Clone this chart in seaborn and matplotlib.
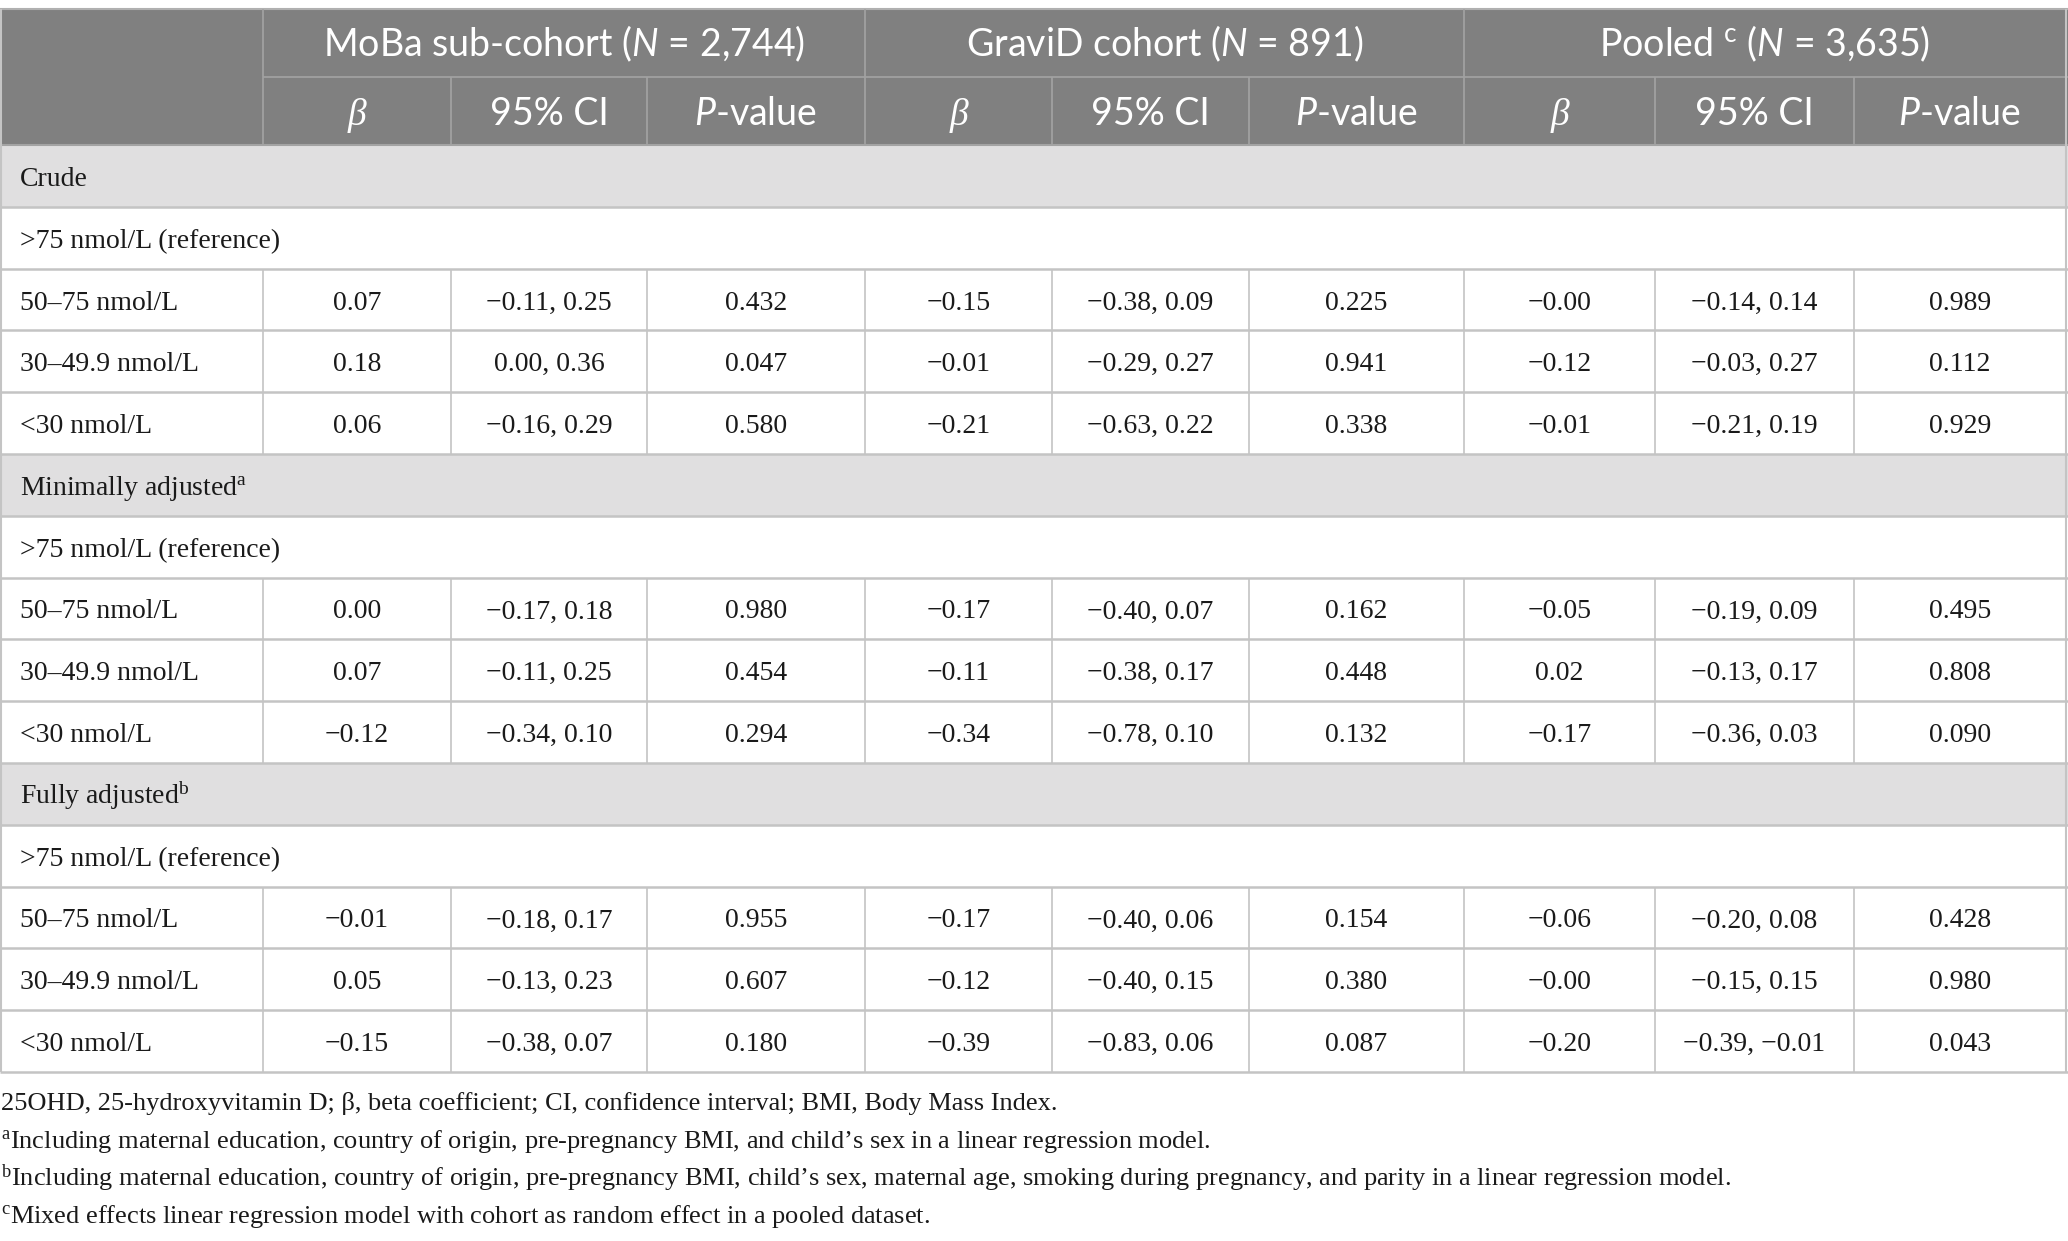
import matplotlib
matplotlib.use("Agg")
import matplotlib.pyplot as plt
import seaborn as sns

# ---- data ----
sections = ["Crude", "Minimally adjusted$\\mathregular{^a}$", "Fully adjusted$\\mathregular{^b}$"]
ref_label = ">75 nmol/L (reference)"
levels = ["50–75 nmol/L", "30–49.9 nmol/L", "<30 nmol/L"]

groups = ["MoBa sub-cohort ($N$ = 2,744)", "GraviD cohort ($N$ = 891)",
          "Pooled $\\mathregular{^c}$ ($N$ = 3,635)"]
subheads = ["β", "95% CI", "$P$-value"]

# one list per section, rows = levels
moba_beta = [["0.07", "0.18", "0.06"], ["0.00", "0.07", "−0.12"], ["−0.01", "0.05", "−0.15"]]
moba_ci = [["−0.11, 0.25", "0.00, 0.36", "−0.16, 0.29"],
           ["−0.17, 0.18", "−0.11, 0.25", "−0.34, 0.10"],
           ["−0.18, 0.17", "−0.13, 0.23", "−0.38, 0.07"]]
moba_p = [["0.432", "0.047", "0.580"], ["0.980", "0.454", "0.294"], ["0.955", "0.607", "0.180"]]

gravid_beta = [["−0.15", "−0.01", "−0.21"], ["−0.17", "−0.11", "−0.34"], ["−0.17", "−0.12", "−0.39"]]
gravid_ci = [["−0.38, 0.09", "−0.29, 0.27", "−0.63, 0.22"],
             ["−0.40, 0.07", "−0.38, 0.17", "−0.78, 0.10"],
             ["−0.40, 0.06", "−0.40, 0.15", "−0.83, 0.06"]]
gravid_p = [["0.225", "0.941", "0.338"], ["0.162", "0.448", "0.132"], ["0.154", "0.380", "0.087"]]

pooled_beta = [["−0.00", "−0.12", "−0.01"], ["−0.05", "0.02", "−0.17"], ["−0.06", "−0.00", "−0.20"]]
pooled_ci = [["−0.14, 0.14", "−0.03, 0.27", "−0.21, 0.19"],
             ["−0.19, 0.09", "−0.13, 0.17", "−0.36, 0.03"],
             ["−0.20, 0.08", "−0.15, 0.15", "−0.39, −0.01"]]
pooled_p = [["0.989", "0.112", "0.929"], ["0.495", "0.808", "0.090"], ["0.428", "0.980", "0.043"]]

footnotes = [
    "25OHD, 25-hydroxyvitamin D; β, beta coefficient; CI, confidence interval; BMI, Body Mass Index.",
    "$\\mathregular{^a}$Including maternal education, country of origin, pre-pregnancy BMI, and child’s sex in a linear regression model.",
    "$\\mathregular{^b}$Including maternal education, country of origin, pre-pregnancy BMI, child’s sex, maternal age, smoking during pregnancy, and parity in a linear regression model.",
    "$\\mathregular{^c}$Mixed effects linear regression model with cohort as random effect in a pooled dataset.",
]

# ---- style ----
sns.set_theme(style="white")
plt.rcParams["mathtext.fontset"] = "custom"
plt.rcParams["mathtext.it"] = "Lato:italic"
plt.rcParams["mathtext.rm"] = "Lato"

W, H = 2068, 1241
fig = plt.figure(figsize=(W / 100, H / 100), dpi=100)
ax = fig.add_axes([0, 0, 1, 1])
ax.set_xlim(0, W)
ax.set_ylim(H, 0)
ax.axis("off")

hdr_bg = "#808080"
hdr_line = "#a3a3a3"
sec_bg = "#e0dfe0"
grid = "#c4c4c4"
ink = "#1a1a1a"
serif = "Liberation Serif"
sans = "Lato"

col_x = [0, 263, 451, 647, 865, 1052, 1249, 1464, 1655, 1854, 2066]
top = 9
h1 = 77
h2 = 145
rh = (1072 - h2) / 15

# header background
ax.fill_between([0, W], top, h2, color=hdr_bg, lw=0)
ax.hlines(top, 0, W, color="#b0b0b0", lw=1.5)
ax.hlines(h1, col_x[1], W, color=hdr_line, lw=1.2)
ax.hlines(h2, 0, W, color=hdr_line, lw=1.5)
for g in range(3):
    ax.vlines(col_x[1 + 3 * g], top, h2, color=hdr_line, lw=1.2)
    ax.vlines([col_x[2 + 3 * g], col_x[3 + 3 * g]], h1, h2, color=hdr_line, lw=1.2)
    cx = (col_x[1 + 3 * g] + col_x[4 + 3 * g]) / 2
    ax.text(cx, 56, groups[g], ha="center", va="baseline", color="white",
            fontsize=27, fontfamily=sans)
    for k in range(3):
        sx = (col_x[1 + 3 * g + k] + col_x[2 + 3 * g + k]) / 2
        if k == 0:
            ax.text(sx, 125, subheads[k], ha="center", va="baseline", color="white",
                    fontsize=27, fontfamily=serif, fontstyle="italic")
        else:
            ax.text(sx, 125, subheads[k], ha="center", va="baseline", color="white",
                    fontsize=27, fontfamily=sans)

# body rows
betas = [moba_beta, gravid_beta, pooled_beta]
cis = [moba_ci, gravid_ci, pooled_ci]
ps = [moba_p, gravid_p, pooled_p]
y = h2
for s, sec in enumerate(sections):
    # section row
    ax.fill_between([0, W], y, y + rh, color=sec_bg, lw=0)
    ax.text(20, y + rh / 2 + 10, sec, ha="left", va="baseline", fontsize=20,
            fontfamily=serif, color=ink)
    y += rh
    ax.hlines(y, 0, W, color=grid, lw=1.8)
    # reference row
    ax.text(20, y + rh / 2 + 10, ref_label, ha="left", va="baseline", fontsize=20,
            fontfamily=serif, color=ink)
    y += rh
    ax.hlines(y, 0, W, color=grid, lw=1.8)
    for r, lev in enumerate(levels):
        ax.text(20, y + rh / 2 + 10, lev, ha="left", va="baseline", fontsize=20,
                fontfamily=serif, color=ink)
        for g in range(3):
            vals = [betas[g][s][r], cis[g][s][r], ps[g][s][r]]
            for k in range(3):
                sx = (col_x[1 + 3 * g + k] + col_x[2 + 3 * g + k]) / 2
                ax.text(sx, y + rh / 2 + 10, vals[k], ha="center", va="baseline",
                        fontsize=20, fontfamily=serif, color=ink)
        ax.vlines(col_x[1:-1], y, y + rh, color=grid, lw=1.2)
        y += rh
        ax.hlines(y, 0, W, color=grid, lw=1.8)

ax.vlines([1, col_x[-1]], top, y, color=grid, lw=1.5)

# footnotes
fy = [1110, 1148, 1186, 1223]
for t, yy in zip(footnotes, fy):
    ax.text(1, yy, t, ha="left", va="baseline", fontsize=19, fontfamily=serif,
            color=ink)

fig.savefig("out.png", dpi=100)
